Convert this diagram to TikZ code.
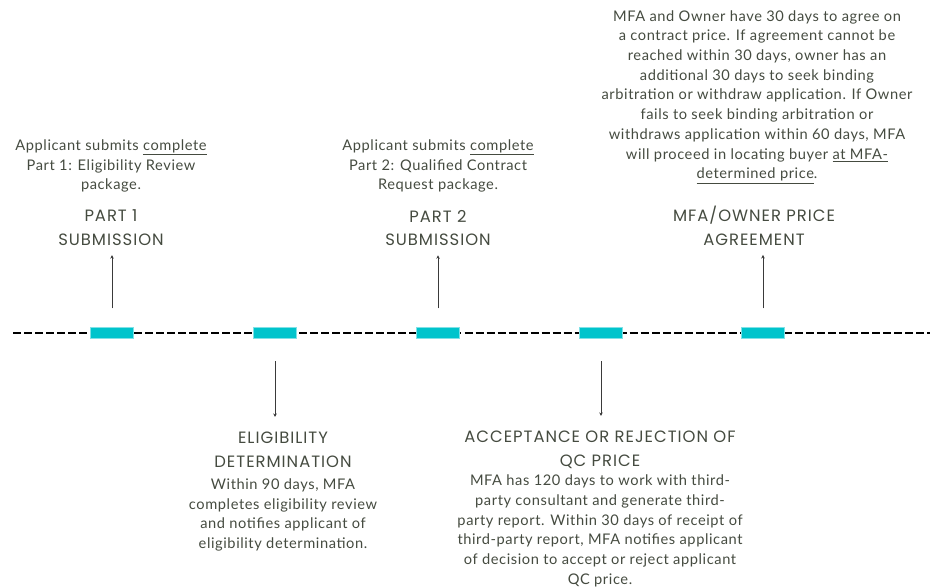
\documentclass[tikz,border=0pt]{standalone}
\usepackage{fontspec}
\setmainfont{Lato}[LetterSpace=4]
\newfontfamily\headfont{Poppins}[LetterSpace=6]
\usetikzlibrary{positioning,arrows.meta}
\definecolor{txtgray}{HTML}{454B40}
\definecolor{barcyan}{HTML}{00C4CC}
\definecolor{arrgray}{HTML}{3A3A3A}

\begin{document}
\begin{tikzpicture}[x=0.03cm, y=-0.03cm,
    bar/.style={fill=barcyan, draw=barcyan!50!white, line width=0.4pt, minimum width=1.29cm, minimum height=0.33cm, inner sep=0pt},
    body/.style={align=center, text=txtgray, inner sep=0pt, font=\fontsize{12.5}{16.8}\selectfont},
    head/.style={align=center, text=txtgray, inner sep=0pt, font=\headfont\fontsize{14}{20.4}\selectfont},
    tick/.style={arrgray, line width=0.6pt, -{Stealth[length=3pt, width=3pt]}}]
\useasboundingbox (0,0) rectangle (930,586);

% time line
\draw[line width=1.6pt, dash pattern=on 6.8pt off 2.6pt] (13,333) -- (930,333);
\node[bar] (b1) at (112,333) {};
\node[bar] (b2) at (275,333) {};
\node[bar] (b3) at (438,333) {};
\node[bar] (b4) at (601,333) {};
\node[bar] (b5) at (763,333) {};

% above the line
\node[body] (t1) at (111,166) {Applicant submits \underline{complete}\\Part 1: Eligibility Review\\package.};
\node[head] (h1) at (111,228) {PART 1\\SUBMISSION};

\node[body] (t3) at (438,166) {Applicant submits \underline{complete}\\Part 2: Qualified Contract\\Request package.};
\node[head] (h3) at (438,228) {PART 2\\SUBMISSION};

\node[body] (t5) at (757,97) {MFA and Owner have 30 days to agree on\\a contract price. If agreement cannot be\\reached within 30 days, owner has an\\additional 30 days to seek binding\\arbitration or withdraw application. If Owner\\fails to seek binding arbitration or\\withdraws application within 60 days, MFA\\will proceed in locating buyer \underline{at MFA-}\\\underline{determined price}.};
\node[head] (h5) at (754,226) {MFA/OWNER PRICE\\AGREEMENT};

% below the line
\node[head] (h2) at (283,450) {ELIGIBILITY\\DETERMINATION};
\node[body] (t2) at (283,515) {Within 90 days, MFA\\completes eligibility review\\and notifies applicant of\\eligibility determination.};

\node[head] (h4) at (600,450) {ACCEPTANCE OR REJECTION OF\\QC PRICE};
\node[body] (t4) at (600,531) {MFA has 120 days to work with third-\\party consultant and generate third-\\party report. Within 30 days of receipt of\\third-party report, MFA notifies applicant\\of decision to accept or reject applicant\\QC price.};

% arrows
\draw[tick] ([yshift=0.57cm]b1.north) -- ([yshift=-0.27cm]b1 |- h1.south);
\draw[tick] ([yshift=0.57cm]b3.north) -- ([yshift=-0.27cm]b3 |- h3.south);
\draw[tick] ([yshift=0.57cm]b5.north) -- ([yshift=-0.27cm]b5 |- h5.south);
\draw[tick] ([yshift=-0.68cm]b2.south) -- ([yshift=0.45cm]b2 |- h2.north);
\draw[tick] ([yshift=-0.68cm]b4.south) -- ([yshift=0.45cm]b4 |- h4.north);
\end{tikzpicture}
\end{document}
